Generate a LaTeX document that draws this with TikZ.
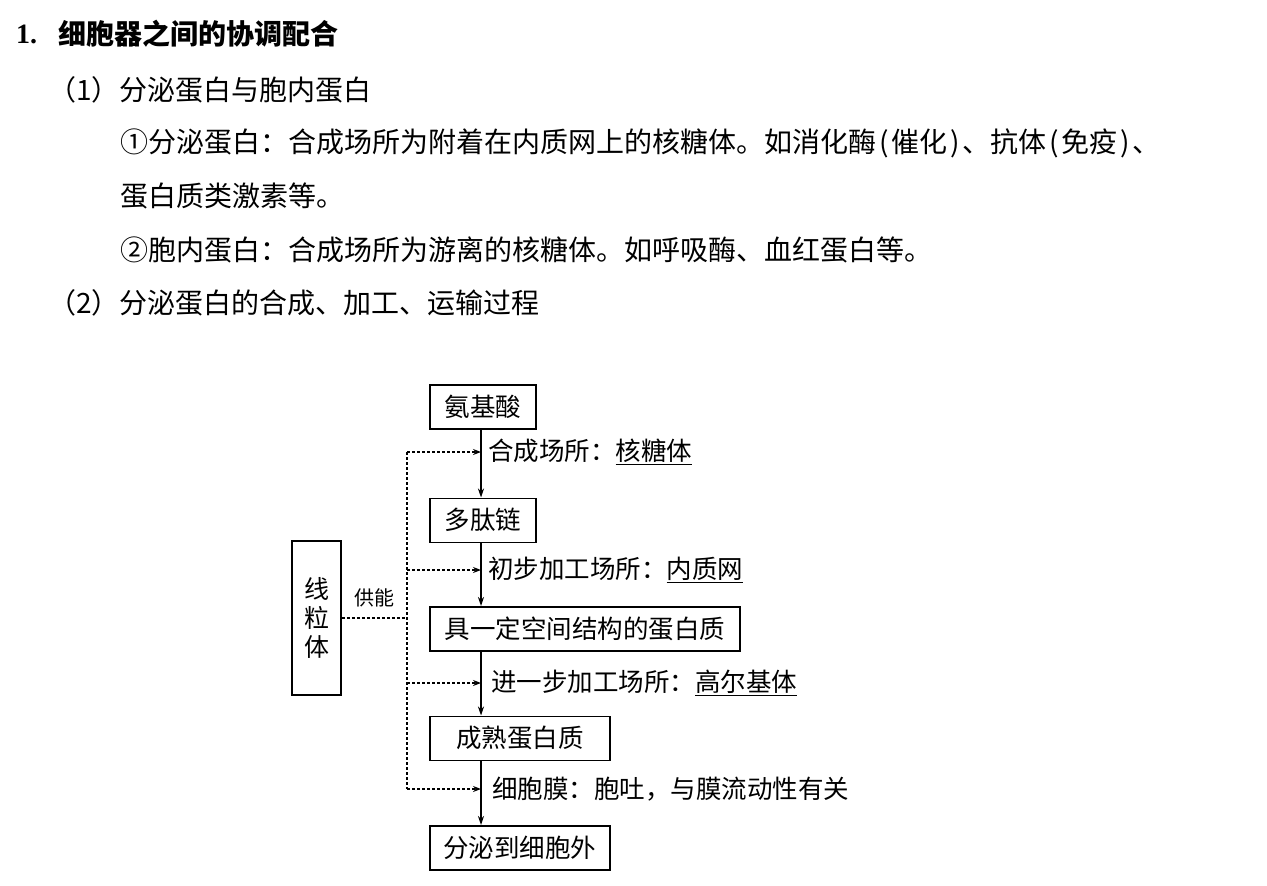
\documentclass[tikz,border=0pt]{standalone}
\usepackage{fontspec}
\setmainfont{Liberation Serif}
\newfontfamily\cjk{Noto Sans CJK SC}
\usepackage{tikz}
\usetikzlibrary{arrows.meta,positioning}
\newcommand{\bodysize}{\fontsize{28}{33}\selectfont}
\newcommand{\chartsize}{\fontsize{25.5}{29}\selectfont}
\newcommand{\lp}{\hspace{3pt}(\hspace{3pt}}
\newcommand{\rp}{\hspace{3pt})\hspace{2pt}}

\begin{document}
\begin{tikzpicture}[x=1pt, y=-1pt, >={Stealth[length=9pt,width=6pt]},
    textline/.style={anchor=west, inner sep=0pt, font=\cjk\bodysize},
    stage/.style={draw, line width=1.5pt, rectangle, minimum height=44pt, inner sep=0pt, font=\cjk\chartsize},
    note/.style={anchor=west, inner sep=0pt, font=\cjk\chartsize},
    flow/.style={->, line width=1.2pt},
    supply/.style={line width=1.2pt, dash pattern=on 3pt off 2pt}]
    \fill[white] (0,0) rectangle (1267,886);

    % heading and notes
    \node [textline, font=\bfseries\bodysize] (num) at (16,34) {1.};
    \node [textline, font=\cjk\bfseries\bodysize] (head) at (58,34) {细胞器之间的协调配合};
    \node [textline] (partA) at (48,90) {（1）分泌蛋白与胞内蛋白};
    \node [textline] (itemA) at (120,143) {①分泌蛋白：合成场所为附着在内质网上的核糖体。如消化酶\lp 催化\rp 、抗体\lp 免疫\rp 、};
    \node [textline] (itemAcont) at (120,196) {蛋白质类激素等。};
    \node [textline] (itemB) at (120,250) {②胞内蛋白：合成场所为游离的核糖体。如呼吸酶、血红蛋白等。};
    \node [textline] (partB) at (48,303) {（2）分泌蛋白的合成、加工、运输过程};

    % the chart
    \coordinate (spine) at (481,0);
    \node [stage, minimum width=106pt, anchor=north west] (amino) at (429,384) {氨基酸};
    \node [stage, minimum width=106pt, below=68pt of amino.south west, anchor=north west] (peptide) {多肽链};
    \node [stage, minimum width=310pt, below=63pt of peptide.south west, anchor=north west] (folded) {具一定空间结构的蛋白质};
    \node [stage, minimum width=180pt, below=64pt of folded.south west, anchor=north west] (mature) {成熟蛋白质};
    \node [stage, minimum width=180pt, below=64pt of mature.south west, anchor=north west] (secreted) {分泌到细胞外};
    \node [stage, minimum width=49pt, minimum height=154pt, align=center, font=\cjk\fontsize{25}{29}\selectfont] (mito) at (316.5,618) {线\\粒\\体};

    \draw [flow] (amino.south -| spine) -- (peptide.north -| spine);
    \draw [flow] (peptide.south -| spine) -- (folded.north -| spine);
    \draw [flow] (folded.south -| spine) -- (mature.north -| spine);
    \draw [flow] (mature.south -| spine) -- (secreted.north -| spine);

    \coordinate (tapA) at (407,452);
    \coordinate (tapB) at (407,570);
    \coordinate (tapC) at (407,683);
    \coordinate (tapD) at (407,789);
    \draw [supply] (tapA) -- (tapD);
    \draw [supply] (mito.east) -- node[above=10pt, inner sep=0pt, font=\cjk\fontsize{20}{24}\selectfont] (energy) {供能} (mito.east -| tapA);
    \foreach \t in {tapA,tapB,tapC,tapD}
        \draw [supply, ->, >={Stealth[length=8pt,width=6pt]}] (\t) -- (\t -| spine);

    \node [note] (siteA) at (488,452) {合成场所：\underline{核糖体}};
    \node [note] (siteB) at (488,570) {初步加工场所：\underline{内质网}};
    \node [note] (siteC) at (491,683) {进一步加工场所：\underline{高尔基体}};
    \node [note] (siteD) at (492,789) {细胞膜：胞吐，与膜流动性有关};
\end{tikzpicture}
\end{document}
